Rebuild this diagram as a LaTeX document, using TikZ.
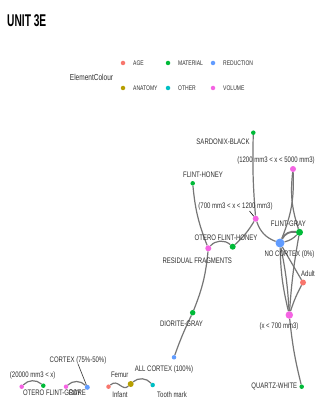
\documentclass[tikz,border=0pt]{standalone}
\usepackage{fontspec}
\setmainfont{Liberation Sans}[FakeStretch=0.75]
\newfontfamily\titlefont{Liberation Sans}[FakeStretch=0.6]
\usepackage{tikz}
\usetikzlibrary{positioning, backgrounds}
\usepackage{xcolor}
\definecolor{unitAge}{HTML}{F8766D}
\definecolor{unitAnatomy}{HTML}{B79F00}
\definecolor{unitMaterial}{HTML}{00BA38}
\definecolor{unitOther}{HTML}{00BFC4}
\definecolor{unitReduction}{HTML}{619CFF}
\definecolor{unitVolume}{HTML}{F564E3}
\definecolor{unitEdge}{HTML}{767676}
\definecolor{unitText}{HTML}{303030}

\begin{document}
\begin{tikzpicture}[
        x=1pt, y=-1pt,
        dot/.style={
            circle,
            inner sep=0pt,
            minimum size=#1
        },
        dot/.default=4.5pt,
        age/.style={dot=#1, fill=unitAge},
        age/.default=4.5pt,
        anatomy/.style={dot=#1, fill=unitAnatomy},
        anatomy/.default=4.5pt,
        material/.style={dot=#1, fill=unitMaterial},
        material/.default=4.5pt,
        other/.style={dot=#1, fill=unitOther},
        other/.default=4.5pt,
        reduction/.style={dot=#1, fill=unitReduction},
        reduction/.default=4.5pt,
        volume/.style={dot=#1, fill=unitVolume},
        volume/.default=4.5pt,
        lbl/.style={
            inner sep=0pt,
            text=unitText,
            font=\fontsize{8}{8}\selectfont
        },
        key/.style={
            inner sep=0pt,
            anchor=west,
            text=unitText,
            font=\fontsize{6.7}{6.7}\selectfont
        },
        link/.style={
            draw=unitEdge,
            line width=1.2pt
        }
    ]
    
    \useasboundingbox (0,0) rectangle (321,409);
    
    \node[anchor=west, inner sep=0pt, font=\titlefont\bfseries\fontsize{17}{17}\selectfont] (title) at (7,21) {UNIT 3E};
    
    % legend
    \node[lbl, font=\fontsize{8.7}{8.7}\selectfont] (keyname) at (91.5,77) {ElementColour};
    \node[age] (kage) at (123,63) {};
    \node[anatomy] (kanatomy) at (123,88) {};
    \node[material] (kmaterial) at (168,63) {};
    \node[other] (kother) at (168,88) {};
    \node[reduction] (kreduction) at (213,63) {};
    \node[volume] (kvolume) at (213,88) {};
    \node[key] (tage) at (133,63) {AGE};
    \node[key] (tanatomy) at (133,88) {ANATOMY};
    \node[key] (tmaterial) at (178,63) {MATERIAL};
    \node[key] (tother) at (178,88) {OTHER};
    \node[key] (treduction) at (223,63) {REDUCTION};
    \node[key] (tvolume) at (223,88) {VOLUME};
    
    % nodes
    \node[material] (sardonix) at (253.3,132.7) {};
    \node[volume=6pt] (volbig) at (293,169) {};
    \node[material] (flinthoney) at (192.7,183.3) {};
    \node[volume=6pt] (volmid) at (255.7,218.7) {};
    \node[material=7pt] (flintgray) at (299.5,232.3) {};
    \node[reduction=9pt] (nocortex) at (280,243) {};
    \node[material=6pt] (oterohoney) at (232.7,246.7) {};
    \node[volume=6pt] (residual) at (208.3,248.3) {};
    \node[age=6pt] (adult) at (303,282.5) {};
    \node[volume=7.5pt] (volsmall) at (289.3,315) {};
    \node[material=5.5pt] (diorite) at (192.7,312.7) {};
    \node[reduction] (allcortex) at (174,357.3) {};
    \node[material] (quartz) at (301.7,386.7) {};
    \node[volume] (volhuge) at (21.7,386.7) {};
    \node[material] (oterogray) at (43.3,385.7) {};
    \node[volume] (core) at (66,386.7) {};
    \node[reduction=5pt] (cortex) at (87.3,387.3) {};
    \node[age] (infant) at (108.5,386.7) {};
    \node[anatomy=6pt] (femur) at (130.7,384) {};
    \node[other] (toothmark) at (152.7,385) {};
    
    % labels
    \node[lbl] (lsardonix) at (223,141.5) {SARDONIX-BLACK};
    \node[lbl] (lvolbig) at (276,160) {(1200 mm3 < x < 5000 mm3)};
    \node[lbl] (lflinthoney) at (203,175) {FLINT-HONEY};
    \node[lbl] (lvolmid) at (235.5,206.7) {(700 mm3 < x < 1200 mm3)};
    \node[lbl] (lflintgray) at (288.3,223.3) {FLINT-GRAY};
    \node[lbl] (lnocortex) at (289.5,254) {NO CORTEX (0\%)};
    \node[lbl] (loterohoney) at (226,237.3) {OTERO FLINT-HONEY};
    \node[lbl] (lresidual) at (197.3,260.7) {RESIDUAL FRAGMENTS};
    \node[lbl] (ladult) at (308,273.3) {Adult};
    \node[lbl] (lvolsmall) at (279,326) {(x < 700 mm3)};
    \node[lbl] (ldiorite) at (181.5,323.3) {DIORITE-GRAY};
    \node[lbl] (lallcortex) at (164,369) {ALL CORTEX (100\%)};
    \node[lbl] (lquartz) at (274.3,386.7) {QUARTZ-WHITE};
    \node[lbl] (lvolhuge) at (32.7,375) {(20000 mm3 < x)};
    \node[lbl] (loterogray) at (52,392.3) {OTERO FLINT-GRAY};
    \node[lbl] (lcore) at (77.3,392.3) {CORE};
    \node[lbl] (lcortex) at (78,360) {CORTEX (75\%-50\%)};
    \node[lbl] (lfemur) at (119.7,375) {Femur};
    \node[lbl] (linfant) at (120,395) {Infant};
    \node[lbl] (ltoothmark) at (172,394.3) {Tooth mark};
    
    \begin{scope}[on background layer]
        \fill[white] (0,0) rectangle (321,409);
        \draw[link] (sardonix) to[bend right=3] (volmid);
        \draw[link] (flinthoney) to[bend right=8] (residual);
        \draw[link] (residual) to[bend left=45] (oterohoney);
        \draw[link] (oterohoney) to[bend right=8] (volmid);
        \draw[link] (volmid) to[bend right=25] (nocortex);
        \draw[link] (volbig) to[bend left=12] (nocortex);
        \draw[link] (volbig) to[bend right=12] (flintgray);
        \draw[link, line width=1.8pt] (nocortex) to[bend left=35] (flintgray);
        \draw[link] (nocortex) to[bend right=15] (flintgray);
        \draw[link] (nocortex) to[bend left=4] (volsmall);
        \draw[link] (nocortex) to[bend right=6] (volsmall);
        \draw[link] (flintgray) to[bend right=3] (volsmall);
        \draw[link] (nocortex) -- (adult);
        \draw[link] (adult) to[bend right=5] (volsmall);
        \draw[link] (volsmall) to[bend right=4] (quartz);
        \draw[link] (residual) to[bend left=8] (diorite);
        \draw[link] (diorite) to[bend right=3] (allcortex);
        \draw[link] (volhuge) to[bend left=45] (oterogray);
        \draw[link] (core) to[bend left=45] (cortex);
        \draw[link] (infant) .. controls (118,378) and (122,392) .. (femur);
        \draw[link] (femur) to[bend left=45] (toothmark);
    \end{scope}
    
    \draw[line width=0.6pt, draw=black] (249.5,211) -- (volmid);
    \draw[line width=0.6pt, draw=unitText] (lcortex.south) -- (cortex);
    
\end{tikzpicture}
\end{document}
